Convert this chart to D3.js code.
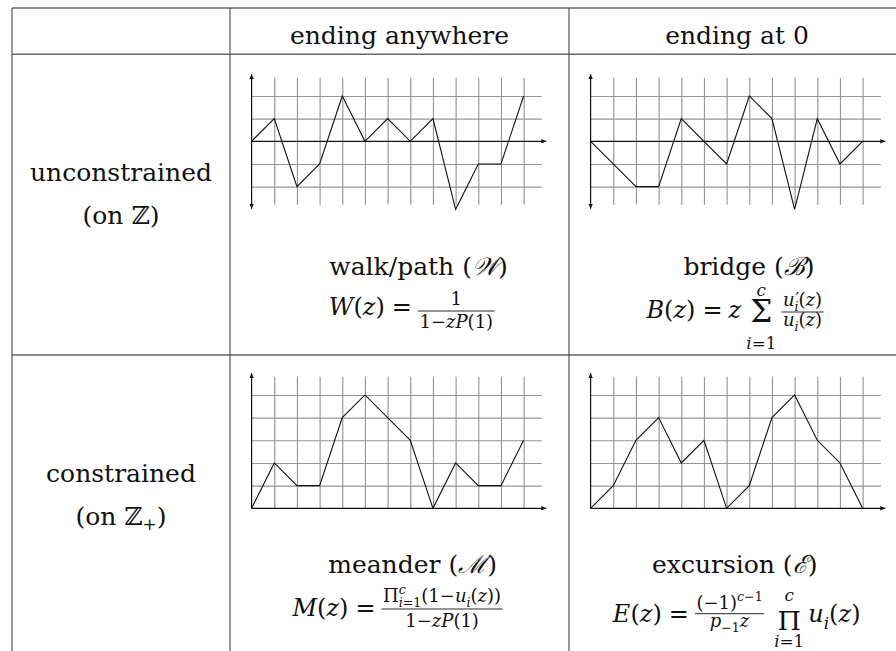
<!DOCTYPE html>
<html>
<head>
<meta charset="utf-8">
<script src="https://cdn.jsdelivr.net/npm/d3@7"></script>
<style>
  body { margin: 0; background: #fff; }
  svg text { font-family: "DejaVu Serif", serif; fill: #111; }
</style>
</head>
<body>
<svg id="chart"></svg>
<script>
// table of lattice paths: walk, bridge, meander, excursion

const width = 896;
const height = 651;

// ---- data ----
const columnHeaders = ["ending anywhere", "ending at 0"];
const rowLabels = [["unconstrained", "(on ℤ"], ["constrained", "(on ℤ"]];
const rowLabelSubs = ["", "+"];
const pathNames = ["walk/path", "bridge", "meander", "excursion"];
const pathSymbols = ["𝒲", "ℬ", "ℳ", "ℰ"];

const steps = [0, 1, 2, 3, 4, 5, 6, 7, 8, 9, 10, 11, 12];
const walkValues = [0, 1, -2, -1, 2, 0, 1, 0, 1, -3, -1, -1, 2];
const bridgeValues = [0, -1, -2, -2, 1, 0, -1, 2, 1, -3, 1, -1, 0];
const meanderValues = [0, 2, 1, 1, 4, 5, 4, 3, 0, 2, 1, 1, 3];
const excursionValues = [0, 1, 3, 4, 2, 3, 0, 1, 4, 5, 3, 2, 0];

// ---- layout ----
const colX = [12, 230, 569];
const rowY = [8, 54.3, 355];
const unit = 22.67;

const svg = d3.select("#chart")
    .attr("width", width)
    .attr("height", height);

const defs = svg.append("defs");
defs.append("marker")
    .attr("id", "arrow")
    .attr("viewBox", "0 -3 6 6")
    .attr("refX", 5)
    .attr("refY", 0)
    .attr("markerWidth", 6)
    .attr("markerHeight", 6)
    .attr("markerUnits", "userSpaceOnUse")
    .attr("orient", "auto-start-reverse")
    .append("path")
    .attr("d", "M0,-2.3L5,0L0,2.3Z")
    .attr("fill", "#111");

// table rules
svg.selectAll(".hrule")
    .data(rowY)
    .enter()
    .append("line")
    .attr("class", "hrule")
    .attr("x1", colX[0]).attr("x2", width)
    .attr("y1", d => d).attr("y2", d => d)
    .style("stroke", "#666")
    .style("stroke-width", 1.6);

svg.selectAll(".vrule")
    .data(colX)
    .enter()
    .append("line")
    .attr("class", "vrule")
    .attr("x1", d => d).attr("x2", d => d)
    .attr("y1", rowY[0]).attr("y2", height)
    .style("stroke", "#444")
    .style("stroke-width", 1.1);

// headers
const headerX = [399.5, 737];
svg.selectAll(".header")
    .data(columnHeaders)
    .enter()
    .append("text")
    .attr("class", "header")
    .attr("x", (d, i) => headerX[i])
    .attr("y", 43.5)
    .attr("text-anchor", "middle")
    .attr("font-size", 25)
    .text(d => d);

// row labels
const rowLabelY = [[181, 224], [482, 525]];
rowLabels.forEach((lines, r) => {
    svg.append("text")
        .attr("x", 121).attr("y", rowLabelY[r][0])
        .attr("text-anchor", "middle").attr("font-size", 25)
        .text(lines[0]);
    const t = svg.append("text")
        .attr("x", 121).attr("y", rowLabelY[r][1])
        .attr("text-anchor", "middle").attr("font-size", 25);
    t.append("tspan").text(lines[1]);
    if (rowLabelSubs[r]) {
        t.append("tspan").attr("font-size", 17).attr("dy", 5).text(rowLabelSubs[r]);
        t.append("tspan").attr("dy", -5).text(")");
    } else {
        t.append("tspan").text(")");
    }
});

// lattice path panels
const panels = [
    { values: walkValues, col: 1, row: 1, low: -3, high: 3 },
    { values: bridgeValues, col: 2, row: 1, low: -3, high: 3 },
    { values: meanderValues, col: 1, row: 2, low: 0, high: 6 },
    { values: excursionValues, col: 2, row: 2, low: 0, high: 6 }
];
const axisY = [null, 141.3, 508.3];

panels.forEach(p => {
    const ox = colX[p.col] + 21.6;
    const oy = axisY[p.row];
    const x = d3.scaleLinear().domain([0, 12]).range([ox, ox + 12 * unit]);
    const y = d3.scaleLinear().domain([p.low, p.high])
        .range([oy - p.low * unit, oy - p.high * unit]);

    const gridLow = p.low < 0 ? p.low + 0.2 : 0;
    const gridHigh = p.high - 0.2;
    const g = svg.append("g");

    // vertical grid lines
    g.append("g")
        .attr("transform", `translate(0,${y(gridLow)})`)
        .call(d3.axisBottom(x)
            .tickValues(steps.slice(1))
            .tickSize(-(y(gridLow) - y(gridHigh)))
            .tickFormat(""))
        .call(a => a.select(".domain").remove())
        .call(a => a.selectAll(".tick line").style("stroke", "#959595").style("stroke-width", 1.15));

    // horizontal grid lines
    const levels = d3.range(Math.ceil(gridLow), Math.floor(gridHigh) + 1).filter(v => v !== 0);
    g.append("g")
        .attr("transform", `translate(${x(0)},0)`)
        .call(d3.axisLeft(y)
            .tickValues(levels)
            .tickSize(-(x(12.8) - x(0)))
            .tickFormat(""))
        .call(a => a.select(".domain").remove())
        .call(a => a.selectAll(".tick line").style("stroke", "#959595").style("stroke-width", 1.15));

    // axes
    g.append("line")
        .attr("x1", x(0)).attr("x2", x(13))
        .attr("y1", y(0)).attr("y2", y(0))
        .style("stroke", "#111").style("stroke-width", 1.2)
        .attr("marker-end", "url(#arrow)");
    const va = g.append("line")
        .attr("x1", x(0)).attr("x2", x(0))
        .attr("y1", p.low < 0 ? y(p.low + 0.03) : y(0))
        .attr("y2", y(p.high - 0.04))
        .style("stroke", "#111").style("stroke-width", 1.2)
        .attr("marker-end", "url(#arrow)");
    if (p.low < 0) va.attr("marker-start", "url(#arrow)");

    // the path itself
    const line = d3.line()
        .x((d, i) => x(steps[i]))
        .y(d => y(d));
    g.append("path")
        .datum(p.values)
        .attr("d", line)
        .style("fill", "none")
        .style("stroke", "#111")
        .style("stroke-width", 1.1)
        .style("stroke-linejoin", "miter");
});

// names
const nameX = [418.5, 749, 412.6, 734.7];
const nameY = [275, 275, 573.3, 573.3];
pathNames.forEach((n, i) => {
    const t = svg.append("text")
        .attr("x", nameX[i]).attr("y", nameY[i])
        .attr("text-anchor", "middle").attr("font-size", 25);
    t.append("tspan").text(n + " (");
    t.append("tspan").style("font-style", "italic").text(pathSymbols[i]);
    t.append("tspan").text(")");
});

// ---- tiny math layout: one <text> per row, tspans placed by hand ----
function render(g, tokens, fs) {
    let x = 0;
    let txt = null;
    const piece = (tok, px, py, size) => {
        if (!txt) txt = g.append("text");
        return txt.append("tspan")
            .attr("x", px).attr("y", py)
            .attr("font-size", size)
            .style("font-style", tok.i ? "italic" : "normal")
            .text(tok.t);
    };
    tokens.forEach(tok => {
        if (tok.sp) { x += tok.sp; return; }
        if (tok.frac) {
            const s = fs * (tok.k || 0.75);
            const gn = g.append("g"), gd = g.append("g");
            const wn = render(gn, tok.frac[0], s);
            const wd = render(gd, tok.frac[1], s);
            const w = Math.max(wn, wd) + 3;
            gn.attr("transform", `translate(${x + (w - wn) / 2},${tok.bar + tok.nb})`);
            gd.attr("transform", `translate(${x + (w - wd) / 2},${tok.bar + tok.db})`);
            g.append("line")
                .attr("x1", x).attr("x2", x + w)
                .attr("y1", tok.bar).attr("y2", tok.bar)
                .style("stroke", "#111").style("stroke-width", 0.9);
            x += w;
            return;
        }
        if (tok.big) {
            const b = piece({ t: tok.big }, x, tok.dy, fs * tok.k);
            const wb = b.node().getComputedTextLength();
            const lay = (list, y) => {
                const ts = list.map(q => piece(q, 0, y, fs * 0.7));
                const ws = ts.map(t => t.node().getComputedTextLength());
                return { ts, ws, w: d3.sum(ws) };
            };
            const o = lay(tok.over, tok.oy), u = lay(tok.under, tok.uy);
            const w = Math.max(wb, o.w, u.w);
            b.attr("x", x + (w - wb) / 2);
            [o, u].forEach(l => {
                let cx = x + (w - l.w) / 2;
                l.ts.forEach((t, j) => { t.attr("x", cx); cx += l.ws[j]; });
            });
            x += w;
            return;
        }
        const s = piece(tok, x + (tok.dx || 0), (tok.dy || 0) * fs, fs * (tok.k || 1));
        const w = s.node().getComputedTextLength();
        if (!tok.hold) x += w;
    });
    return x;
}

function formula(tokens, cx, baseline, fs) {
    const g = svg.append("g");
    const w = render(g, tokens, fs);
    g.attr("transform", `translate(${cx - w / 2},${baseline})`);
}

const zArg = [{ t: "(" }, { t: "z", i: 1 }, { t: ")" }];
const eq = [{ sp: 7 }, { t: "=" }, { sp: 6 }];
const denom = [{ t: "1−" }, { t: "zP", i: 1 }, { t: "(1)" }];

formula([{ t: "W", i: 1 }, ...zArg, ...eq,
    { frac: [[{ t: "1" }], denom], bar: -4, nb: -6, db: 17 }], 411.7, 315, 24);

formula([{ t: "B", i: 1 }, ...zArg, ...eq, { t: "z", i: 1 }, { sp: 5 },
    { big: "Σ", k: 1.3, dy: 4, oy: -22, uy: 31, over: [{ t: "c", i: 1 }], under: [{ t: "i", i: 1 }, { t: "=1" }] },
    { sp: 5 },
    { frac: [
        [{ t: "u", i: 1 }, { t: "′", k: 0.9, dx: 1, dy: -0.1, hold: 1 }, { t: "i", i: 1, k: 0.7, dy: 0.3 }, { t: "(" }, { t: "z", i: 1 }, { t: ")" }],
        [{ t: "u", i: 1 }, { t: "i", i: 1, k: 0.7, dy: 0.3 }, { t: "(" }, { t: "z", i: 1 }, { t: ")" }]
    ], bar: -6, nb: -6, db: 14 }], 735, 318, 24);

formula([{ t: "M", i: 1 }, ...zArg, ...eq,
    { frac: [
        [{ t: "Π" }, { t: "c", i: 1, k: 0.7, dy: -0.45, hold: 1 }, { t: "i", i: 1, k: 0.7, dy: 0.3 }, { t: "=1", k: 0.7, dy: 0.3 },
         { t: "(1−" }, { t: "u", i: 1 }, { t: "i", i: 1, k: 0.7, dy: 0.3 }, { t: "(" }, { t: "z", i: 1 }, { t: "))" }],
        denom
    ], bar: -7, nb: -7, db: 18 }], 397.5, 616, 24);

formula([{ t: "E", i: 1 }, ...zArg, ...eq,
    { frac: [
        [{ t: "(−1)" }, { t: "c", i: 1, k: 0.7, dy: -0.45 }, { t: "−1", k: 0.7, dy: -0.45 }],
        [{ t: "p", i: 1 }, { t: "−1", k: 0.7, dy: 0.3 }, { t: "z", i: 1 }]
    ], bar: -8, nb: -5, db: 13 },
    { sp: 10 },
    { big: "Π", k: 1.12, dy: 8, oy: -21, uy: 25, over: [{ t: "c", i: 1 }], under: [{ t: "i", i: 1 }, { t: "=1" }] },
    { sp: 4 },
    { t: "u", i: 1 }, { t: "i", i: 1, k: 0.7, dy: 0.3 }, ...zArg], 736.7, 621.7, 24);
</script>
</body>
</html>
